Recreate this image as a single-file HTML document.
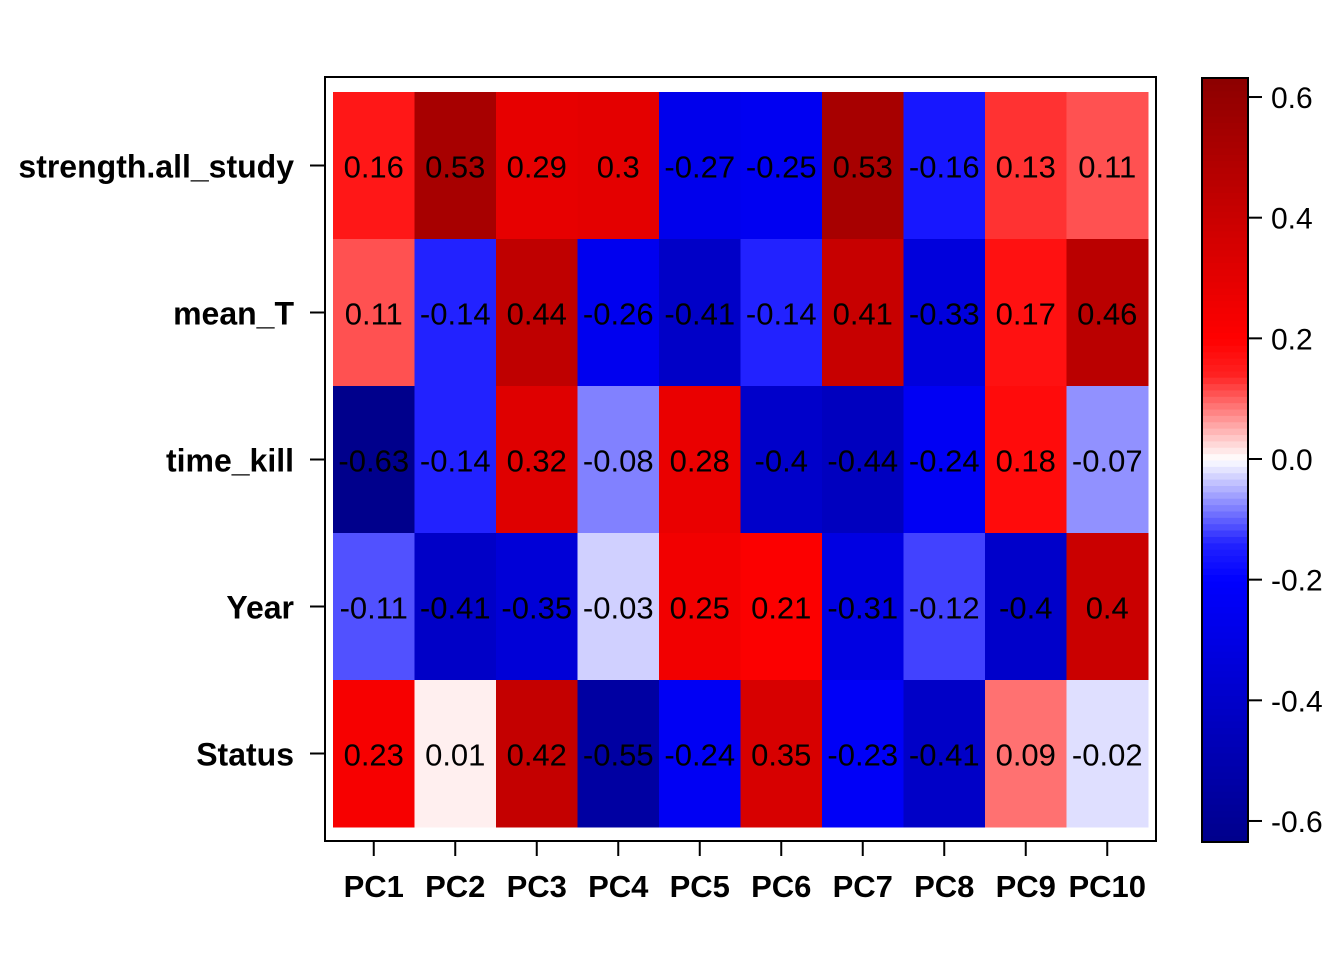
<!DOCTYPE html>
<html><head><meta charset="utf-8"><style>
body{margin:0;background:#fff;}
svg text{font-family:"Liberation Sans",Arial,sans-serif;}
</style></head><body>
<svg id="chart" width="1344" height="960" xmlns="http://www.w3.org/2000/svg">
<g id="cells"></g>
<rect x="325" y="77" width="831" height="764" fill="none" stroke="#000" stroke-width="2"/>
<g id="axes"></g>
<g id="cbar"></g>
</svg>
<script>
const cols = ["PC1","PC2","PC3","PC4","PC5","PC6","PC7","PC8","PC9","PC10"];
const rows = ["strength.all_study","mean_T","time_kill","Year","Status"];
const rowStrength = [0.16,0.53,0.29,0.3,-0.27,-0.25,0.53,-0.16,0.13,0.11];
const rowMeanT = [0.11,-0.14,0.44,-0.26,-0.41,-0.14,0.41,-0.33,0.17,0.46];
const rowTimeKill = [-0.63,-0.14,0.32,-0.08,0.28,-0.4,-0.44,-0.24,0.18,-0.07];
const rowYear = [-0.11,-0.41,-0.35,-0.03,0.25,0.21,-0.31,-0.12,-0.4,0.4];
const rowStatus = [0.23,0.01,0.42,-0.55,-0.24,0.35,-0.23,-0.41,0.09,-0.02];
const legendTicks = [0.6,0.4,0.2,0.0,-0.2,-0.4,-0.6];
const values = [rowStrength,rowMeanT,rowTimeKill,rowYear,rowStatus];

const NS="http://www.w3.org/2000/svg";
function mk(tag,attrs,parent){const e=document.createElementNS(NS,tag);for(const k in attrs)e.setAttribute(k,attrs[k]);parent.appendChild(e);return e;}
const x0=333,x1=1148,y0=92,y1=827;
const cw=(x1-x0)/cols.length, rh=(y1-y0)/rows.length;
const xC=i=>x0+cw*(i+0.5), yC=j=>y0+rh*(j+0.5);
const stops=[[-0.635,[0,0,139]],[-0.2,[0,0,255]],[-0.14,[34,34,255]],[0,[255,255,255]],[0.14,[255,34,34]],[0.2,[255,0,0]],[0.635,[139,0,0]]];
function color(v){
  v=Math.max(-0.635,Math.min(0.635,v));
  for(let i=0;i<stops.length-1;i++){const [a,ca]=stops[i],[b,cb]=stops[i+1];
    if(v<=b){const t=(v-a)/(b-a);const c=ca.map((x,k)=>Math.round(x+(cb[k]-x)*t));return `rgb(${c})`;}}
  return "rgb(139,0,0)";
}
const cells=document.getElementById('cells');
values.forEach((row,j)=>row.forEach((v,i)=>{
  const r=mk('rect',{x:x0+cw*i,y:y0+rh*j,width:cw+0.5,height:rh+0.5,fill:color(v)},cells);
  
  
  const t=mk('text',{x:xC(i),y:yC(j)+12,'text-anchor':'middle','font-size':31},cells);
  
  
  t.textContent=String(v);
}));
const axes=document.getElementById('axes');
rows.forEach((r,j)=>{
  mk('line',{x1:310,x2:325,y1:yC(j),y2:yC(j),stroke:'#000','stroke-width':2},axes);
  const t=mk('text',{x:294,y:yC(j)+12,'text-anchor':'end','font-size':32,'font-weight':'bold'},axes);
  
  
  t.textContent=r;
});
cols.forEach((c,i)=>{
  mk('line',{x1:xC(i),x2:xC(i),y1:841,y2:856,stroke:'#000','stroke-width':2},axes);
  const t=mk('text',{x:xC(i),y:897,'text-anchor':'middle','font-size':31,'font-weight':'bold'},axes);
  
  
  t.textContent=c;
});
const cb=document.getElementById('cbar');
const cbTop=78,cbBot=842,cbMax=0.632,cbMin=-0.635;
const yV=v=>459-(v)*603.3;
const N=120;
for(let k=0;k<N;k++){
  const va=cbMin+(cbMax-cbMin)*k/N, vb=cbMin+(cbMax-cbMin)*(k+1)/N;
  const r=mk('rect',{x:1202,y:yV(vb),width:46,height:yV(va)-yV(vb)+0.6,fill:color((va+vb)/2)},cb);
  
  
}
mk('rect',{x:1202,y:cbTop,width:46,height:cbBot-cbTop,fill:'none',stroke:'#000','stroke-width':2},cb);
legendTicks.forEach(v=>{
  mk('line',{x1:1248,x2:1262,y1:yV(v),y2:yV(v),stroke:'#000','stroke-width':2},cb);
  const t=mk('text',{x:1271,y:yV(v)+11,'font-size':30},cb);
  
  
  t.textContent=(v<0?'-':'')+Math.abs(v).toFixed(1);
});
</script>
</body></html>
